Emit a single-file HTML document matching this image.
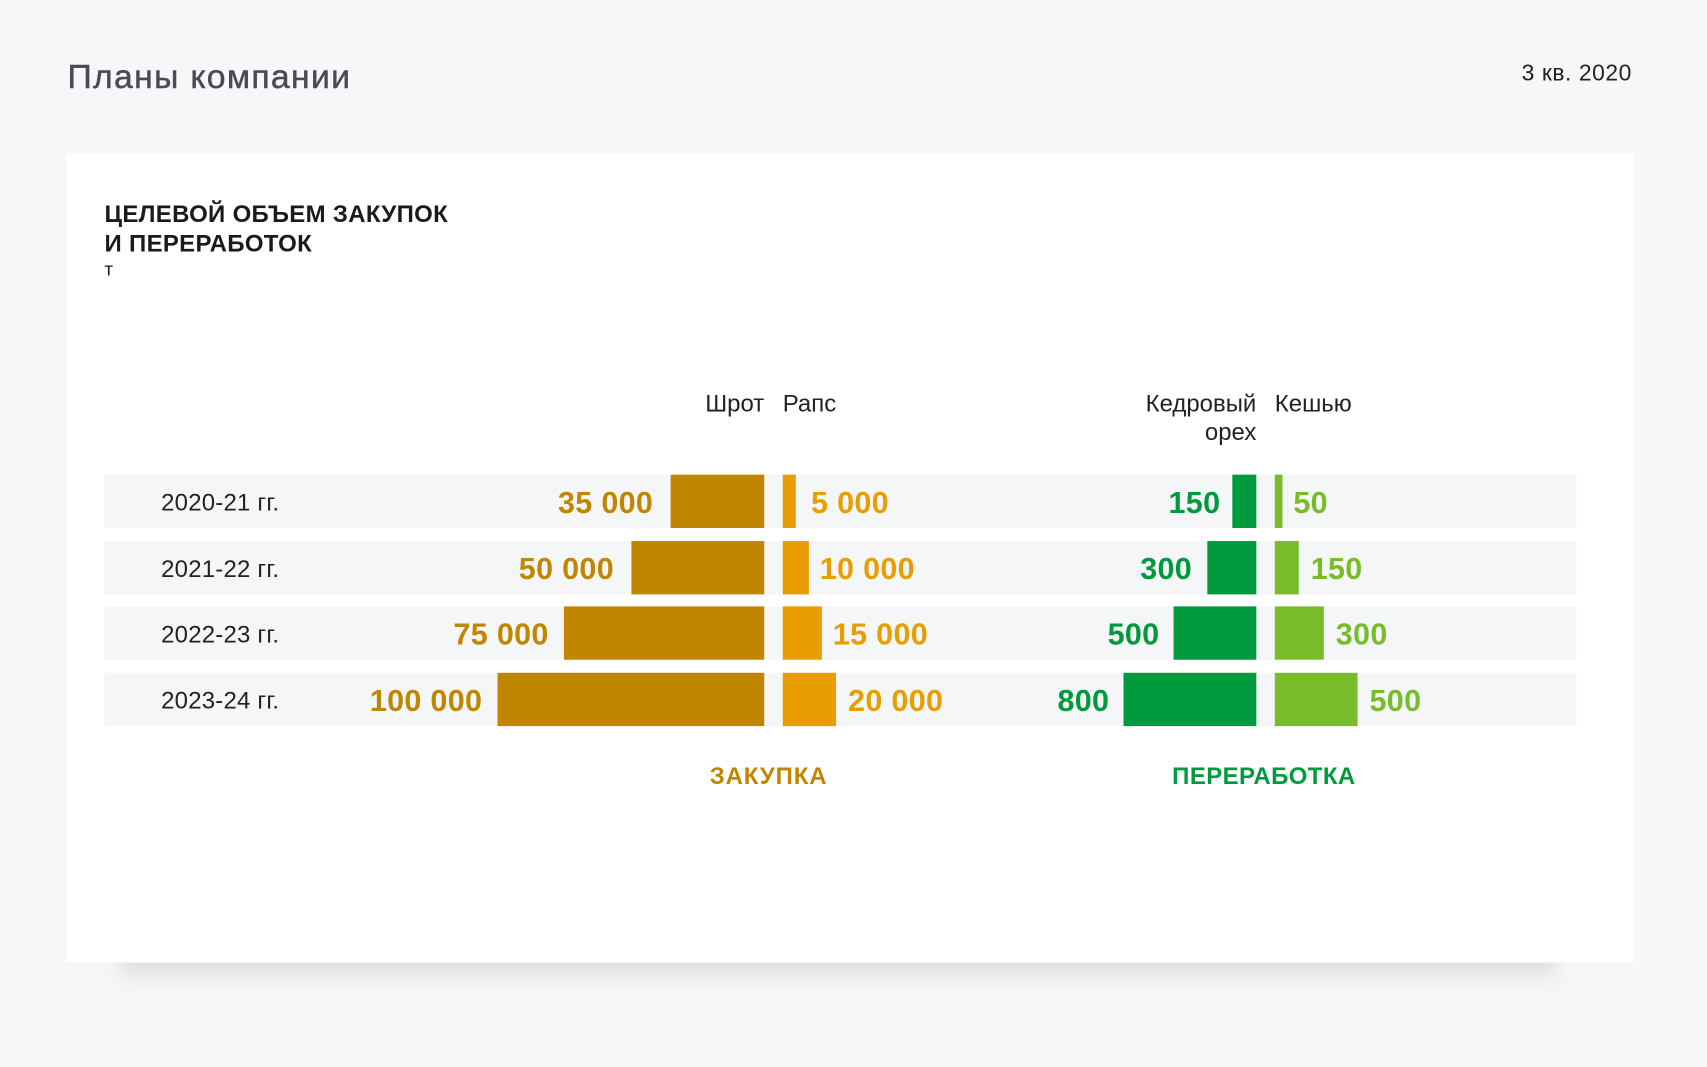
<!DOCTYPE html>
<html><head><meta charset="utf-8"><style>
html,body{margin:0;padding:0;width:1707px;height:1067px;overflow:hidden;background:#f6f7f9;}
#w{position:absolute;left:0;top:0;width:1568px;height:980px;transform:scale(1.08865);transform-origin:0 0;font-family:"Liberation Sans",sans-serif;}
.a{position:absolute;white-space:nowrap;}
.card{position:absolute;left:61px;top:141px;width:1440px;height:743px;background:#fff;}
.sh{position:absolute;left:110px;top:850px;width:1320px;height:34px;box-shadow:0 12px 20px rgba(0,0,0,0.10);}
.row{position:absolute;left:96px;width:1352px;height:49px;background:#f5f6f8;}
.b{position:absolute;height:49px;}
.v{position:absolute;font-size:28px;font-weight:bold;line-height:49px;letter-spacing:0.3px;}
.y{position:absolute;left:148px;font-size:22px;line-height:49px;color:#222;letter-spacing:0.2px;}
.h{font-size:22px;color:#222;line-height:26px;}
</style></head><body><div id="w">
<div class="a" style="left:62px;top:53px;font-size:31px;color:#4a4a52;letter-spacing:1.2px;-webkit-text-stroke:0.4px #4a4a52;">Планы компании</div>
<div class="a" style="left:1380px;top:56px;font-size:21px;color:#222;width:119px;text-align:right;letter-spacing:0.5px;">3 кв. 2020</div>
<div class="sh"></div>
<div class="card"></div>
<div class="a" style="left:96px;top:183px;font-size:22px;font-weight:bold;color:#1a1a1a;line-height:27px;letter-spacing:0.3px;">ЦЕЛЕВОЙ ОБЪЕМ ЗАКУПОК<br>И ПЕРЕРАБОТОК</div>
<div class="a" style="left:96px;top:238px;font-size:17px;color:#1a1a1a;">т</div>
<div class="a h" style="left:600px;top:358px;width:102px;text-align:right;">Шрот</div>
<div class="a h" style="left:719px;top:358px;">Рапс</div>
<div class="a h" style="left:1000px;top:358px;width:154px;text-align:right;">Кедровый<br>орех</div>
<div class="a h" style="left:1171px;top:358px;">Кешью</div>

<div class="row" style="top:436px"></div>
<div class="row" style="top:497px"></div>
<div class="row" style="top:557px"></div>
<div class="row" style="top:618px"></div>

<div class="y" style="top:437px">2020-21 гг.</div>
<div class="y" style="top:498px">2021-22 гг.</div>
<div class="y" style="top:558px">2022-23 гг.</div>
<div class="y" style="top:619px">2023-24 гг.</div>

<div class="b" style="top:436px;left:616px;width:86px;background:#c08600"></div>
<div class="b" style="top:497px;left:580px;width:122px;background:#c08600"></div>
<div class="b" style="top:557px;left:518px;width:184px;background:#c08600"></div>
<div class="b" style="top:618px;left:457px;width:245px;background:#c08600"></div>
<div class="v" style="top:437px;right:968px;color:#c08600">35 000</div>
<div class="v" style="top:498px;right:1004px;color:#c08600">50 000</div>
<div class="v" style="top:558px;right:1064px;color:#c08600">75 000</div>
<div class="v" style="top:619px;right:1125px;color:#c08600">100 000</div>

<div class="b" style="top:436px;left:719px;width:12px;background:#e89e00"></div>
<div class="b" style="top:497px;left:719px;width:24px;background:#e89e00"></div>
<div class="b" style="top:557px;left:719px;width:36px;background:#e89e00"></div>
<div class="b" style="top:618px;left:719px;width:49px;background:#e89e00"></div>
<div class="v" style="top:437px;left:745px;color:#e89e00">5 000</div>
<div class="v" style="top:498px;left:753px;color:#e89e00">10 000</div>
<div class="v" style="top:558px;left:765px;color:#e89e00">15 000</div>
<div class="v" style="top:619px;left:779px;color:#e89e00">20 000</div>

<div class="b" style="top:436px;left:1132px;width:22px;background:#009a3e"></div>
<div class="b" style="top:497px;left:1109px;width:45px;background:#009a3e"></div>
<div class="b" style="top:557px;left:1078px;width:76px;background:#009a3e"></div>
<div class="b" style="top:618px;left:1032px;width:122px;background:#009a3e"></div>
<div class="v" style="top:437px;right:447px;color:#009a3e">150</div>
<div class="v" style="top:498px;right:473px;color:#009a3e">300</div>
<div class="v" style="top:558px;right:503px;color:#009a3e">500</div>
<div class="v" style="top:619px;right:549px;color:#009a3e">800</div>

<div class="b" style="top:436px;left:1171px;width:7px;background:#78bc2a"></div>
<div class="b" style="top:497px;left:1171px;width:22px;background:#78bc2a"></div>
<div class="b" style="top:557px;left:1171px;width:45px;background:#78bc2a"></div>
<div class="b" style="top:618px;left:1171px;width:76px;background:#78bc2a"></div>
<div class="v" style="top:437px;left:1188px;color:#78bc2a">50</div>
<div class="v" style="top:498px;left:1204px;color:#78bc2a">150</div>
<div class="v" style="top:558px;left:1227px;color:#78bc2a">300</div>
<div class="v" style="top:619px;left:1258px;color:#78bc2a">500</div>

<div class="a" style="left:606px;width:200px;text-align:center;top:700px;font-size:22px;font-weight:bold;color:#c08600;letter-spacing:0.8px;">ЗАКУПКА</div>
<div class="a" style="left:1061px;width:200px;text-align:center;top:700px;font-size:22px;font-weight:bold;color:#009a3e;letter-spacing:0.4px;">ПЕРЕРАБОТКА</div>
</div></body></html>
